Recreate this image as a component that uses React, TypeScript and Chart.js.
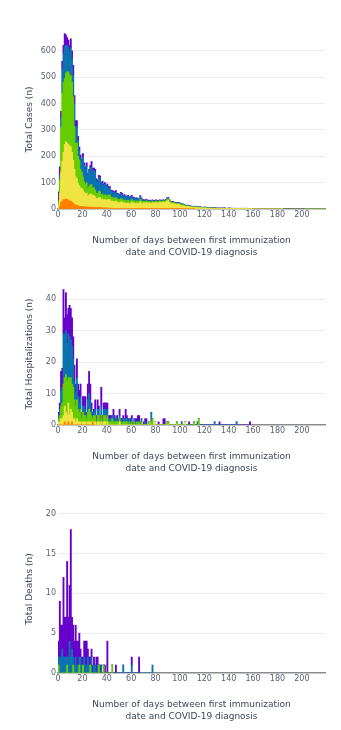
import React, { useEffect, useRef } from "react";
import { Chart, registerables } from "chart.js";

Chart.register(...registerables);

// ---------- DATA ----------
const SERIES_NAMES = ["Group 1", "Group 2", "Group 3", "Group 4", "Group 5"];
const X_MAX_DAYS = 219;
const xTicks = [0, 20, 40, 60, 80, 100, 120, 140, 160, 180, 200];
const caseTicks = [0, 100, 200, 300, 400, 500, 600];
const hospTicks = [0, 10, 20, 30, 40];
const deathTicks = [0, 5, 10, 15, 20];
const xTitle = ["Number of days between first immunization", "date and COVID-19 diagnosis"];
const caseTitle = "Total Cases (n)";
const hospTitle = "Total Hospitalizations (n)";
const deathTitle = "Total Deaths (n)";

// Total cases per day (index = day), one array per stacked group
const casesOrange = [
  2, 10, 25, 30, 35, 35, 38, 36, 34, 30,
  30, 25, 22, 18, 15, 14, 12, 10, 10, 9,
  10, 8, 8, 8, 7, 7, 7, 7, 6, 7,
  6, 5, 5, 6, 6, 4, 5, 4, 4, 4,
  4, 3, 3, 2, 3, 2, 2, 3, 2, 2,
  2, 2, 2, 2, 2, 2, 2, 2, 2, 2,
  2, 2, 2, 1, 2, 1, 2, 2, 2, 1,
  1, 1, 2, 1, 1, 1, 1, 2, 1, 1,
  2, 1, 1, 2, 1, 1, 2, 1, 2, 2,
  2, 1, 1, 1, 1, 1, 1, 1, 1, 1,
  1, 1, 1, 0, 1, 0, 1, 0, 1, 0,
  0, 1,
];
const casesYellow = [
  10, 50, 115, 150, 180, 210, 217, 214, 211, 210,
  206, 190, 163, 132, 107, 101, 85, 78, 70, 69,
  62, 55, 50, 52, 42, 46, 50, 50, 45, 44,
  41, 35, 34, 38, 38, 32, 33, 30, 32, 29,
  31, 33, 32, 28, 27, 26, 26, 27, 24, 23,
  22, 25, 24, 21, 22, 20, 19, 21, 18, 19,
  24, 20, 21, 19, 21, 19, 20, 25, 21, 19,
  22, 21, 23, 21, 22, 21, 20, 22, 22, 21,
  23, 22, 22, 24, 23, 24, 24, 23, 25, 28,
  30, 24, 20, 19, 19, 18, 17, 16, 17, 16,
  13, 10, 12, 11, 9, 8, 9, 7, 7, 7,
  6, 5, 7, 5, 5, 4, 5, 4, 4, 3,
  4, 3, 3, 3, 3, 3, 2, 2, 2, 2,
  2, 2, 2, 1, 2, 1, 2, 1, 1, 1,
  2, 1, 1, 1, 1, 1, 1, 1, 1, 1,
  1, 1, 1, 1, 1, 1, 1, 0, 1, 0,
  0, 0, 0, 0, 0, 0, 0, 0, 0, 0,
  0, 0, 0, 0, 0, 0, 0, 0, 0, 0,
  0, 0, 0, 1,
];
const casesGreen = [
  15, 50, 170, 260, 265, 250, 260, 270, 275, 270,
  269, 265, 240, 162, 128, 135, 103, 98, 70, 62,
  50, 40, 37, 40, 30, 32, 35, 35, 30, 30,
  25, 20, 20, 24, 22, 18, 19, 17, 18, 16,
  17, 18, 18, 15, 14, 14, 13, 14, 12, 12,
  11, 13, 12, 10, 11, 10, 10, 10, 9, 10,
  10, 8, 9, 8, 8, 8, 8, 10, 8, 7,
  6, 6, 6, 5, 6, 5, 5, 6, 5, 5,
  5, 5, 5, 5, 5, 5, 5, 5, 6, 7,
  7, 6, 5, 5, 5, 4, 4, 4, 4, 4,
  4, 4, 4, 4, 3, 3, 3, 3, 2, 2,
  2, 2, 2, 2, 2, 2, 2, 2, 1, 1,
  2, 1, 1, 1, 1, 1, 1, 1, 1, 1,
  1, 1, 1, 1, 1, 1, 1, 1, 1, 1,
  1, 1, 1, 0, 1, 1, 1, 0, 1, 1,
  1, 1, 0, 1, 1, 1, 0, 1, 1, 1,
  0, 0, 0, 0, 0, 0, 0, 0, 0, 0,
  0, 0, 0, 0, 0, 0, 0, 0, 0, 0,
  0, 0, 0, 0, 0, 0, 0, 0, 0, 0,
  0, 0, 0, 0, 0, 0, 0, 0, 0, 0,
  0, 0, 0, 0, 0, 0, 0, 0, 0, 0,
  0, 0, 0, 0, 0, 0, 0, 0, 1,
];
const casesBlue = [
  8, 20, 35, 90, 110, 120, 105, 100, 95, 85,
  105, 90, 80, 88, 65, 60, 60, 36, 42, 40,
  75, 62, 55, 63, 48, 57, 63, 68, 65, 64,
  68, 48, 44, 52, 52, 40, 42, 38, 40, 36,
  37, 26, 26, 22, 21, 21, 20, 21, 18, 17,
  16, 19, 18, 16, 16, 15, 14, 16, 13, 14,
  13, 10, 10, 9, 9, 9, 8, 11, 9, 7,
  4, 4, 4, 3, 3, 3, 3, 3, 3, 3,
  3, 3, 2, 2, 2, 2, 2, 2, 2, 3,
  3, 2, 2, 2, 2, 2, 2, 2, 2, 2,
  3, 2, 2, 2, 1, 2, 1, 1, 1, 1,
  1, 1, 1, 1, 1, 1, 1, 1, 1, 1,
  1, 1, 1, 1, 1, 1, 1, 1, 1, 1,
  0, 0, 1, 1, 0, 1, 1, 1, 0, 1,
  1, 0, 1, 1, 0, 0, 1, 1, 0, 0,
  0, 1, 1, 0, 1, 0, 1,
];
const casesPurple = [
  30, 30, 25, 30, 30, 50, 40, 30, 25, 25,
  35, 30, 40, 30, 20, 25, 15, 13, 13, 10,
  13, 10, 10, 12, 8, 8, 10, 20, 9, 10,
  10, 7, 7, 8, 7, 6, 6, 6, 6, 5,
  6, 6, 6, 5, 5, 5, 5, 5, 4, 4,
  4, 4, 4, 3, 4, 3, 3, 3, 3, 3,
  3, 3, 3, 3, 3, 2, 2, 3, 2, 2,
  2, 2, 2, 2, 2, 2, 2, 2, 2, 2,
  2, 2, 2, 2, 2, 2, 2, 2, 2, 2,
  2, 2, 1, 1, 1, 1, 1, 1, 1, 1,
  1, 1, 1, 1, 1, 1, 1, 1, 1, 1,
  1, 1, 1, 1, 0, 1, 1, 0, 1, 1,
  1, 1, 0, 1, 0, 1, 1, 0, 1, 0,
  1, 0, 0, 0, 1, 0, 1, 0, 0, 0,
  0, 1, 0, 0, 1, 0, 0, 0, 0, 1,
  0, 0, 0, 0, 0, 0, 0, 0, 0, 0,
  0, 0, 0, 0, 0, 0, 0, 0, 0, 0,
  0, 0, 0, 0, 0, 0, 0, 0, 0, 0,
  0, 0, 0, 0, 0, 0, 0, 0, 0, 1,
  0, 0, 0, 0, 0, 0, 0, 0, 0, 0,
  0, 1,
];

// Hospitalizations per day
const hospOrange = [
  0, 0, 0, 0, 0, 1, 0, 0, 1, 0,
  0, 1, 0, 0, 0, 0, 0, 0, 0, 0,
  0, 0, 0, 0, 0, 0, 0, 0, 1, 0,
];
const hospYellow = [
  1, 1, 2, 2, 3, 5, 4, 3, 6, 3,
  5, 3, 2, 2, 1, 2, 1, 1, 1, 0,
  1, 1, 1, 0, 1, 1, 1, 1, 0, 1,
  1, 0, 1, 1, 0, 1, 0, 1, 1, 0,
  1, 0, 0, 0, 0, 0, 0, 0, 0, 0,
  1, 0, 0, 0, 0, 0, 0, 0, 0, 0,
  0, 0, 0, 0, 0, 0, 0, 0, 0, 0,
  0, 0, 0, 0, 0, 0, 0, 0, 0, 1,
  0, 0, 0, 0, 0, 0, 0, 0, 0, 0,
  0, 0, 0, 0, 0, 0, 0, 0, 0, 0,
  0, 0, 0, 0, 1,
];
const hospGreen = [
  1, 2, 4, 5, 10, 9, 12, 11, 8, 12,
  10, 9, 10, 6, 5, 6, 4, 3, 4, 2,
  3, 2, 2, 2, 3, 4, 3, 2, 1, 2,
  2, 1, 2, 2, 1, 2, 1, 2, 2, 2,
  2, 1, 1, 1, 2, 1, 1, 1, 1, 1,
  1, 1, 0, 1, 1, 1, 1, 0, 1, 0,
  1, 0, 1, 0, 1, 0, 1, 0, 1, 0,
  0, 0, 0, 0, 1, 0, 1, 2, 0, 0,
  0, 0, 0, 0, 0, 0, 0, 0, 0, 1,
  1, 0, 0, 0, 0, 0, 0, 1, 0, 0,
  0, 0, 0, 0, 0, 0, 0, 0, 0, 0,
  0, 1, 0, 0, 0, 2,
];
const hospBlue = [
  1, 2, 5, 5, 16, 14, 14, 12, 14, 13,
  12, 12, 9, 6, 4, 7, 4, 3, 4, 1,
  2, 3, 2, 1, 4, 5, 4, 2, 1, 1,
  2, 1, 2, 2, 1, 3, 1, 2, 2, 2,
  2, 1, 1, 1, 1, 2, 1, 1, 1, 0,
  1, 1, 1, 1, 1, 1, 1, 1, 1, 1,
  1, 0, 1, 1, 0, 1, 0, 1, 1, 0,
  0, 1, 0, 0, 0, 0, 3, 0, 0, 0,
  0, 0, 0, 0, 0, 0, 0, 0, 0, 0,
  0, 0, 0, 0, 0, 0, 0, 0, 0, 0,
  0, 1, 0, 0, 0, 0, 0, 0, 0, 0,
  0, 0, 0, 0, 1, 0, 0, 0, 0, 0,
  0, 0, 0, 0, 0, 0, 0, 0, 1, 0,
  0, 0, 0, 0, 0, 0, 0, 0, 0, 0,
  0, 0, 0, 0, 0, 0, 1,
];
const hospPurple = [
  1, 2, 6, 6, 14, 5, 12, 9, 8, 10,
  10, 9, 7, 5, 3, 6, 4, 4, 4, 1,
  3, 3, 4, 1, 5, 7, 5, 2, 1, 1,
  3, 1, 3, 1, 1, 6, 1, 2, 2, 3,
  2, 1, 1, 1, 0, 2, 1, 0, 1, 1,
  2, 0, 1, 1, 0, 3, 1, 1, 0, 1,
  1, 1, 0, 1, 1, 2, 2, 0, 0, 0,
  1, 1, 2, 0, 0, 0, 0, 0, 0, 0,
  0, 0, 1, 0, 0, 0, 2, 2, 0, 0,
  0, 0, 0, 0, 0, 0, 0, 0, 0, 0,
  0, 0, 0, 0, 0, 0, 0, 1, 0, 0,
  0, 0, 0, 0, 0, 0, 0, 0, 0, 0,
  0, 0, 0, 0, 0, 0, 0, 0, 0, 0,
  0, 0, 1, 0, 0, 0, 0, 0, 0, 0,
  0, 0, 0, 0, 0, 0, 0, 0, 0, 0,
  0, 0, 0, 0, 0, 0, 0, 1,
];

// Deaths per day
const deathOrange: number[] = [];
const deathYellow: number[] = [];
const deathGreen = [
  1, 0, 0, 0, 0, 0, 0, 1, 0, 0,
  0, 0, 1, 0, 0, 0, 0, 1, 0, 0,
  1, 0, 0, 0, 0, 0, 1, 0, 0, 0,
  0, 0, 0, 1, 0, 0, 0, 1, 0, 0,
  0, 0, 0, 0, 1,
];
const deathBlue = [
  1, 2, 2, 3, 2, 2, 2, 1, 2, 4,
  2, 3, 1, 1, 2, 1, 1, 1, 2, 1,
  0, 2, 1, 1, 2, 1, 0, 2, 0, 1,
  1, 0, 1, 0, 0, 1, 0, 0, 0, 0,
  0, 0, 0, 0, 0, 0, 0, 0, 0, 0,
  0, 0, 0, 1, 0, 0, 0, 0, 0, 0,
  1, 0, 0, 0, 0, 0, 0, 0, 0, 0,
  0, 0, 0, 0, 0, 0, 0, 1,
];
const deathPurple = [
  2, 7, 4, 3, 10, 5, 5, 12, 5, 7,
  16, 4, 4, 3, 4, 3, 3, 3, 1, 1,
  1, 2, 3, 3, 1, 1, 1, 1, 1, 1,
  0, 2, 1, 0, 1, 0, 0, 0, 1, 0,
  4, 0, 0, 0, 0, 0, 0, 1, 0, 0,
  0, 0, 0, 0, 0, 0, 0, 0, 0, 0,
  1, 0, 0, 0, 0, 0, 2,
];

// ---------- STYLE ----------
const COLORS = ["#ff8000", "#f0e442", "#66cc00", "#0a72b0", "#6600cc"];
const FONT = "'DejaVu Sans', Verdana, sans-serif";
const TICK_COLOR = "#5a6270";
const TITLE_COLOR = "#3b475a";
const GRID_COLOR = "#ececec";

type PanelProps = {
  top: number;
  height: number;
  areaTop: number;
  yMax: number;
  yTicks: number[];
  yTitle: string;
  series: number[][];
};

function Panel(props: PanelProps) {
  const ref = useRef<HTMLCanvasElement | null>(null);
  useEffect(() => {
    if (!ref.current) return;
    const chart = new Chart(ref.current, {
      type: "bar",
      data: {
        datasets: props.series.map((values, k) => ({
          label: SERIES_NAMES[k],
          data: values.map((v, i) => ({ x: i + 0.5, y: v })),
          backgroundColor: COLORS[k],
          borderWidth: 0,
          barPercentage: 1,
          categoryPercentage: 1,
        })),
      },
      options: {
        responsive: false,
        animation: false,
        events: [],
        layout: { padding: { top: props.areaTop, right: 16, bottom: 0, left: 0 } },
        plugins: { legend: { display: false }, tooltip: { enabled: false } },
        scales: {
          x: {
            type: "linear",
            stacked: true,
            offset: false,
            bounds: "data",
            min: 0,
            max: X_MAX_DAYS,
            z: 1,
            afterBuildTicks: (ax: any) => {
              ax.ticks = xTicks.map((v) => ({ value: v }));
            },
            afterFit: (ax: any) => {
              ax.height = 56;
            },
            grid: { display: false, drawTicks: false, offset: false },
            border: { display: true, color: "#8c8c8c", width: 1.5 },
            ticks: {
              padding: 1,
              autoSkip: false,
              maxRotation: 0,
              color: TICK_COLOR,
              font: { family: FONT, size: 8 },
            },
            title: {
              display: true,
              text: xTitle,
              color: TITLE_COLOR,
              font: { family: FONT, size: 9, lineHeight: 1.29 },
              padding: { top: 0, bottom: 7 },
            },
          },
          y: {
            type: "linear",
            stacked: true,
            bounds: "data",
            min: 0,
            max: props.yMax,
            afterBuildTicks: (ax: any) => {
              ax.ticks = props.yTicks.map((v) => ({ value: v }));
            },
            afterFit: (ax: any) => {
              ax.width = 58;
            },
            grid: {
              drawTicks: false,
              lineWidth: 1,
              color: (ctx: any) => (ctx.tick && ctx.tick.value === 0 ? "rgba(0,0,0,0)" : GRID_COLOR),
            },
            border: { display: false },
            ticks: {
              padding: 2,
              color: TICK_COLOR,
              font: { family: FONT, size: 8 },
            },
            title: {
              display: true,
              text: props.yTitle,
              color: TITLE_COLOR,
              font: { family: FONT, size: 9, lineHeight: 1.2 },
              padding: { top: 24, bottom: 0 },
            },
          },
        },
      } as any,
    });
    return () => chart.destroy();
  }, []);
  return (
    <canvas
      ref={ref}
      width={341}
      height={props.height}
      style={{ position: "absolute", left: 0, top: props.top, display: "block" }}
    />
  );
}

export default function App() {
  return (
    <div style={{ position: "absolute", left: 0, top: 0, width: 341, height: 730, background: "#fff" }}>
      <Panel
        top={0}
        height={265}
        areaTop={30}
        yMax={678.5}
        yTicks={caseTicks}
        yTitle={caseTitle}
        series={[casesOrange, casesYellow, casesGreen, casesBlue, casesPurple]}
      />
      <Panel
        top={265}
        height={216}
        areaTop={18}
        yMax={45.08}
        yTicks={hospTicks}
        yTitle={hospTitle}
        series={[hospOrange, hospYellow, hospGreen, hospBlue, hospPurple]}
      />
      <Panel
        top={481}
        height={248}
        areaTop={24}
        yMax={21.08}
        yTicks={deathTicks}
        yTitle={deathTitle}
        series={[deathOrange, deathYellow, deathGreen, deathBlue, deathPurple]}
      />
    </div>
  );
}
